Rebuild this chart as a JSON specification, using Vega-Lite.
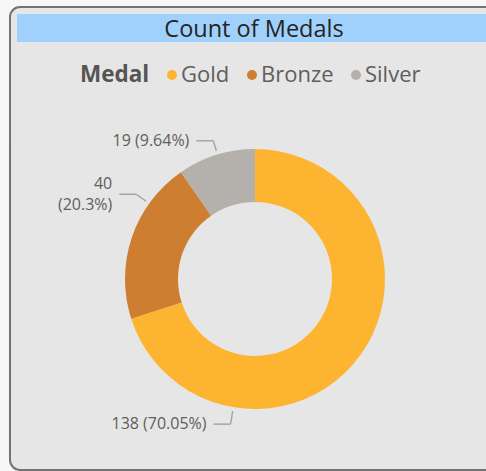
{
  "$schema": "https://vega.github.io/schema/vega-lite/v6.json",
  "width": 476,
  "height": 463,
  "autosize": {"type": "none"},
  "padding": {"left": 10, "top": 7, "right": 0, "bottom": 1},
  "background": "#f7f7f7",
  "config": {
    "font": "Open Sans",
    "view": {"fill": null, "stroke": null},
    "legend": {
      "orient": "none",
      "legendX": 70,
      "legendY": 57,
      "direction": "horizontal",
      "titleOrient": "left",
      "titleFontSize": 22.5,
      "titleFontWeight": "bold",
      "titleColor": "#555555",
      "titlePadding": 11,
      "labelFontSize": 22,
      "labelColor": "#605e5c",
      "symbolType": "circle",
      "symbolSize": 100,
      "symbolStrokeWidth": 0,
      "labelOffset": -2,
      "columnPadding": 11
    }
  },
  "data": {
    "values": [
      {"Medal": "Gold", "Count": 138},
      {"Medal": "Bronze", "Count": 40},
      {"Medal": "Silver", "Count": 19}
    ]
  },
  "transform": [
    {"window": [{"op": "row_number", "as": "rank"}]},
    {"joinaggregate": [{"op": "sum", "field": "Count", "as": "Total"}]},
    {"window": [{"op": "sum", "field": "Count", "as": "Cum"}], "sort": [{"field": "rank"}], "frame": [null, 0]},
    {"calculate": "datum.Count / datum.Total", "as": "Pct"},
    {"calculate": "(datum.Cum - datum.Count / 2) / datum.Total", "as": "Mid"},
    {"calculate": "(119.2 + 226.3 * datum.Mid) * PI / 180", "as": "Ang"},
    {"calculate": "abs(153 * sin(datum.Ang)) > 120", "as": "Wrap"},
    {"calculate": "datum.Wrap ? 166 : 153", "as": "R"},
    {"calculate": "datum.R * sin(datum.Ang)", "as": "AX"},
    {"calculate": "datum.R * cos(datum.Ang)", "as": "AY"},
    {"calculate": "datum.AX + 7", "as": "L1"},
    {"calculate": "datum.AX + 24", "as": "L2"},
    {"calculate": "134 / sqrt(datum.L2 * datum.L2 + datum.AY * datum.AY)", "as": "K"},
    {"calculate": "datum.L2 * datum.K", "as": "PX"},
    {"calculate": "datum.AY * datum.K", "as": "PY"},
    {"calculate": "datum.Wrap ? [format(datum.Count, 'd'), '(' + format(datum.Pct, '.2~%') + ')'] : format(datum.Count, 'd') + ' (' + format(datum.Pct, '.2~%') + ')'", "as": "Label"},
    {"calculate": "datum.Wrap ? datum.AY + 10.5 : datum.AY", "as": "TY"}
  ],
  "layer": [
    {
      "data": {"values": [{}]},
      "mark": {"type": "rect", "fill": "#e6e6e6", "stroke": "#737373", "strokeWidth": 2, "cornerRadius": 10, "x": 0, "x2": {"expr": "width + 20"}, "y": 0, "y2": {"expr": "height"}},
      "encoding": {}
    },
    {
      "data": {"values": [{}]},
      "mark": {"type": "rect", "color": "#a0d1fc", "x": 7, "x2": {"expr": "width + 10"}, "y": 7, "y2": 35},
      "encoding": {}
    },
    {
      "data": {"values": [{}]},
      "mark": {"type": "text", "text": "Count of Medals", "x": {"expr": "width / 2 + 6"}, "y": 30, "align": "center", "baseline": "alphabetic", "fontSize": 23.5, "color": "#252423"},
      "encoding": {}
    },
    {
      "mark": {"type": "arc", "innerRadius": 77, "outerRadius": 130},
      "encoding": {
        "theta": {"field": "Count", "type": "quantitative", "stack": true},
        "order": {"field": "rank", "type": "quantitative"},
        "color": {
          "field": "Medal",
          "type": "nominal",
          "scale": {"domain": ["Gold", "Bronze", "Silver"], "range": ["#fdb531", "#cd7e30", "#b4b1ad"]},
          "legend": {"title": "Medal"}
        },
        "x": {"datum": 0, "type": "quantitative", "scale": {"domain": [-245, 231], "nice": false, "zero": false}, "axis": null},
        "y": {"datum": 0, "type": "quantitative", "scale": {"domain": [-191, 272], "nice": false, "zero": false}, "axis": null}
      }
    },
    {
      "mark": {"type": "rule", "color": "#a6a6a6", "strokeWidth": 1.5},
      "encoding": {
        "x": {"field": "L1", "type": "quantitative"},
        "x2": {"field": "L2"},
        "y": {"field": "AY", "type": "quantitative"},
        "y2": {"field": "AY"}
      }
    },
    {
      "mark": {"type": "rule", "color": "#a6a6a6", "strokeWidth": 1.5},
      "encoding": {
        "x": {"field": "L2", "type": "quantitative"},
        "x2": {"field": "PX"},
        "y": {"field": "AY", "type": "quantitative"},
        "y2": {"field": "PY"}
      }
    },
    {
      "mark": {"type": "text", "align": "right", "baseline": "middle", "fontSize": 16, "color": "#605e5c", "lineHeight": 21},
      "encoding": {
        "x": {"field": "AX", "type": "quantitative"},
        "y": {"field": "TY", "type": "quantitative"},
        "text": {"field": "Label"}
      }
    }
  ]
}
